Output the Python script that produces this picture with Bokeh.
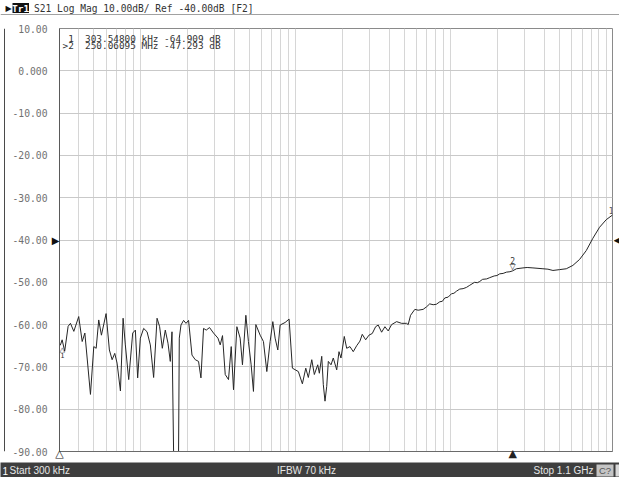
from bokeh.plotting import figure
from bokeh.layouts import column, row
from bokeh.models import Range1d, FixedTicker, Label, Span, LinearAxis
from bokeh.core.properties import value
from bokeh.embed import file_html
from bokeh.resources import INLINE

# ---------------- data ----------------
freq_mhz = [0.3035, 0.312, 0.324, 0.341, 0.353, 0.371, 0.399, 0.420, 0.437, 0.475,
            0.499, 0.517, 0.537, 0.559, 0.599, 0.629, 0.655, 0.681, 0.705, 0.741,
            0.771, 0.797, 0.838, 0.889, 0.925, 0.957, 0.996, 1.046, 1.100, 1.155,
            1.213, 1.276, 1.326, 1.380, 1.442, 1.501, 1.553, 1.593, 1.631, 1.756,
            1.775, 1.820, 1.892, 1.960, 2.037, 2.143, 2.250, 2.362, 2.448, 2.544,
            2.648, 2.780, 2.950, 3.150, 3.258, 3.371, 3.510, 3.684, 3.837, 3.969,
            4.173, 4.380, 4.533, 4.767, 4.953, 5.157, 5.337, 5.529, 5.895, 6.189,
            6.507, 6.834, 7.113, 7.359, 7.659, 7.926, 8.532, 9.057, 9.510, 10.39,
            11.03, 11.60, 12.05, 12.68, 13.17, 13.85, 14.19, 14.70, 15.05, 15.43,
            15.83, 16.21, 16.87, 17.45, 18.36, 18.99, 19.56, 20.54, 21.29, 22.35,
            23.47, 24.68, 25.92, 26.82, 28.21, 29.62, 31.12, 32.71, 33.99, 35.75,
            37.54, 39.42, 41.45, 44.66, 48.09, 51.78, 53.02, 54.94, 58.53, 61.49,
            66.21, 69.63, 73.0, 76.80, 80.5, 84.80, 88.0, 91.31, 96.0, 100.9,
            104.5, 108.6, 114.0, 119.8, 126.0, 132.3, 142.0, 148.0, 153.3, 160.0,
            170.0, 177.9, 190.0, 198.0, 206.3, 217.0, 227.9, 240.0, 250.06, 264.2,
            291.3, 310.0, 337.8, 391.8, 421.9, 454.4, 501.8, 554.2, 611.2, 674.8,
            745.3, 821.7, 907.5, 1002.0, 1100.0]
s21_db = [-64.9, -63.6, -66.3, -60.4, -59.7, -61.6, -58.1, -64.0, -62.0, -76.5,
          -65.2, -65.6, -58.9, -62.5, -57.4, -66.0, -68.3, -66.8, -69.1, -75.7,
          -58.5, -64.8, -73.0, -62.0, -61.3, -72.6, -63.2, -60.9, -61.7, -64.8,
          -72.5, -58.5, -60.5, -65.6, -61.3, -64.4, -68.7, -61.7, -90.0, -90.0,
          -63.2, -60.1, -59.0, -59.7, -59.0, -67.2, -68.3, -68.7, -72.6, -60.9,
          -61.3, -60.7, -62.0, -63.2, -64.8, -62.6, -71.8, -73.0, -65.2, -75.4,
          -60.5, -63.2, -69.5, -57.8, -64.0, -69.5, -75.8, -60.0, -62.5, -64.0,
          -71.1, -64.0, -59.3, -63.2, -66.0, -60.1, -59.5, -58.7, -70.3, -71.1,
          -74.0, -70.3, -72.5, -68.3, -71.8, -69.5, -71.5, -67.5, -74.2, -78.1,
          -74.6, -68.7, -69.5, -67.9, -70.7, -66.4, -67.9, -62.8, -65.6, -65.2,
          -66.4, -65.0, -63.9, -62.3, -63.6, -62.5, -62.1, -60.5, -60.1, -61.8,
          -60.5, -61.5, -60.0, -59.3, -59.7, -59.7, -60.0, -57.8, -56.4, -56.6,
          -56.4, -55.8, -55.1, -55.3, -55.2, -54.6, -54.5, -53.7, -53.5, -52.7,
          -52.6, -52.1, -51.6, -51.5, -51.2, -50.7, -50.0, -50.1, -49.8, -49.3,
          -49.2, -48.9, -48.5, -48.4, -48.0, -47.9, -47.6, -47.5, -47.293, -46.8,
          -46.6, -46.5, -46.6, -46.8, -46.9, -47.2, -47.0, -46.8, -46.0, -44.6,
          -42.5, -39.6, -37.0, -35.2, -34.1]

y_ticks = [10, 0, -10, -20, -30, -40, -50, -60, -70, -80, -90]
y_tick_labels = ["10.00", "0.000", "-10.00", "-20.00", "-30.00", "-40.00",
                 "-50.00", "-60.00", "-70.00", "-80.00", "-90.00"]
grid_freqs = [0.4, 0.5, 0.6, 0.7, 0.8, 0.9, 1, 2, 3, 4, 5, 6, 7, 8, 9,
              10, 20, 30, 40, 50, 60, 70, 80, 90,
              100, 200, 300, 400, 500, 600, 700, 800, 900, 1000]
start_mhz = 0.3
stop_mhz = 1100.0
ref_db = -40.0
marker_freqs = [0.303548, 250.06095]
marker_dbs = [-64.909, -47.293]
header_text = "S21 Log Mag 10.00dB/ Ref -40.00dB [F2]"
status_left = "Start 300 kHz"
status_mid = "IFBW 70 kHz"
status_right = "Stop 1.1 GHz"

MONO = "DejaVu Sans Mono"
SANS = "Liberation Sans"
TRACE = "#262626"
NB = "\u00a0"

# ---------------- layout geometry (pixels) ----------------
W = 619
HEAD_H, MAIN_H, STAT_H = 15, 447, 15
STRIP_W, RSTRIP_W = 5, 6
MAIN_W = W - STRIP_W - RSTRIP_W
BORDER_L, BORDER_R, BORDER_T, BORDER_B = 54, 1, 13, 8


def bare(fig):
    fig.axis.visible = False
    fig.grid.visible = False
    fig.outline_line_color = None
    return fig


# ---------------- header ----------------
h = bare(figure(width=W, height=HEAD_H, x_range=Range1d(0, W), y_range=Range1d(HEAD_H, 0),
                output_backend="svg", toolbar_location=None, min_border=0, title=None))
h.add_layout(Span(location=14.3, dimension="width", line_color="#7a7a7a", line_width=1))
h.text(x=[5], y=[7.5], text=["\u25B6"], text_font=value("DejaVu Sans"),
       text_font_size="8px", text_baseline="middle", text_color="#111111")
h.quad(left=[12], right=[28.5], top=[2.5], bottom=[12.5], fill_color="#111111", line_color=None)
h.text(x=[20.2], y=[7.5], text=["Tr1"], text_font=value(MONO), text_font_size="9.5px",
       text_baseline="middle", text_align="center", text_color="white", text_font_style="bold")
h.text(x=[33.5], y=[7.5], text=[header_text], text_font=value(MONO), text_font_size="9.6px",
       text_baseline="middle", text_color="#333333")

# ---------------- left strip (window border) ----------------
s = bare(figure(width=STRIP_W, height=MAIN_H, x_range=Range1d(0, STRIP_W),
                y_range=Range1d(0, MAIN_H), output_backend="svg", toolbar_location=None,
                min_border=0, title=None))
s.add_layout(Span(location=4.0, dimension="height", line_color="#4a4a4a", line_width=1))

# ---------------- main plot ----------------
p = figure(width=MAIN_W, height=MAIN_H, x_axis_type="log",
           x_range=Range1d(start_mhz, stop_mhz), y_range=Range1d(-90, 10),
           output_backend="svg", toolbar_location=None, title=None,
           min_border_left=BORDER_L, min_border_right=BORDER_R,
           min_border_top=BORDER_T, min_border_bottom=BORDER_B)

# bottom axis: start and active-marker indicators
ax_x = p.xaxis[0]
ax_x.ticker = FixedTicker(ticks=[start_mhz, marker_freqs[1]])
ax_x.major_label_overrides = {start_mhz: "\u25B3", marker_freqs[1]: "\u25B2"}
ax_x.major_tick_line_color = None
ax_x.minor_tick_line_color = None
ax_x.major_tick_out = 0
ax_x.major_tick_in = 0
ax_x.axis_line_color = "#6a6a6a"
ax_x.major_label_text_font = "DejaVu Sans"
ax_x.major_label_text_font_size = "11px"
ax_x.major_label_text_line_height = 0.7
ax_x.major_label_text_color = "#222222"
ax_x.major_label_standoff = -5

# inner left axis: reference-level arrow only
ax_ref = p.yaxis[0]
ax_ref.ticker = FixedTicker(ticks=[ref_db])
ax_ref.major_label_overrides = {ref_db: "\u25B6"}
ax_ref.major_tick_line_color = None
ax_ref.minor_tick_line_color = None
ax_ref.major_tick_out = 0
ax_ref.major_tick_in = 0
ax_ref.axis_line_color = "#5a5a5a"
ax_ref.major_label_text_font = "DejaVu Sans"
ax_ref.major_label_text_font_size = "10px"
ax_ref.major_label_text_color = "#111111"
ax_ref.major_label_standoff = 0

# outer left axis: dB values
ax_db = LinearAxis(ticker=FixedTicker(ticks=y_ticks),
                   major_label_overrides={t: l for t, l in zip(y_ticks, y_tick_labels)},
                   axis_line_color=None, major_tick_line_color=None,
                   minor_tick_line_color=None, major_tick_out=0, major_tick_in=0,
                   major_label_text_font=MONO, major_label_text_font_size="9.7px",
                   major_label_text_color="#707070", major_label_standoff=1)
p.add_layout(ax_db, "left")

p.xgrid.ticker = FixedTicker(ticks=grid_freqs)
p.xgrid.grid_line_color = "#d6d6d6"
p.ygrid.ticker = FixedTicker(ticks=y_ticks)
p.ygrid.grid_line_color = "#c9c9c9"
p.outline_line_color = "#8a8a8a"

p.line(freq_mhz, s21_db, line_color=TRACE, line_width=1)

# readout
line1 = f" 1  {marker_freqs[0]*1000:.5f} kHz {marker_dbs[0]:.3f} dB".replace(" ", NB)
line2 = f">2  {marker_freqs[1]:.5f} MHz {marker_dbs[1]:.3f} dB".replace(" ", NB)
for i, t in enumerate([line1, line2]):
    p.add_layout(Label(x=start_mhz, y=10, x_offset=3, y_offset=-4 - 7.5 * i, text=t,
                       text_font=MONO, text_font_size="9.4px", text_baseline="top",
                       text_color="#333333"))

# marker 1 on trace
p.add_layout(Label(x=marker_freqs[0], y=marker_dbs[0], text="\u25B3", text_align="center",
                   text_baseline="top", x_offset=2, y_offset=-1, text_font="DejaVu Sans",
                   text_font_size="7px", text_color="#333333"))
p.add_layout(Label(x=marker_freqs[0], y=marker_dbs[0], text="1", text_align="center",
                   text_baseline="top", x_offset=2, y_offset=-7, text_font=MONO,
                   text_font_size="7px", text_color="#333333"))
# marker 2 on trace
p.add_layout(Label(x=marker_freqs[1], y=marker_dbs[1], text="\u25BD", text_align="center",
                   text_baseline="bottom", y_offset=0, text_font="DejaVu Sans",
                   text_font_size="8px", text_color="#333333"))
p.add_layout(Label(x=marker_freqs[1], y=marker_dbs[1], text="2", text_align="center",
                   text_baseline="bottom", y_offset=7, text_font=MONO,
                   text_font_size="8px", text_color="#333333"))
# trace end label
p.add_layout(Label(x=freq_mhz[-1], y=s21_db[-1], text="1", text_align="right",
                   text_baseline="bottom", x_offset=1, y_offset=1, text_font=MONO,
                   text_font_size="8px", text_color="#555555"))

# ---------------- right strip: reference-level arrow ----------------
r = bare(figure(width=RSTRIP_W, height=MAIN_H, x_range=Range1d(0, RSTRIP_W),
                y_range=p.y_range, output_backend="svg", toolbar_location=None,
                title=None, min_border_left=0, min_border_right=0,
                min_border_top=BORDER_T, min_border_bottom=BORDER_B + 1))
r.text(x=[0], y=[ref_db], text=["\u25C0"], text_font=value("DejaVu Sans"),
       text_font_size="8.5px", text_baseline="middle", text_align="left",
       text_color="#111111")

# ---------------- status bar ----------------
b = bare(figure(width=W, height=STAT_H, x_range=Range1d(0, W), y_range=Range1d(STAT_H, 0),
                output_backend="svg", toolbar_location=None, min_border=0, title=None,
                background_fill_color="#3e3e3e", border_fill_color="#3e3e3e"))
b.text(x=[2], y=[8], text=["1"], text_font=value(SANS), text_font_size="10px",
       text_baseline="middle", text_color="white")
b.text(x=[9], y=[8], text=[status_left], text_font=value(SANS), text_font_size="10px",
       text_baseline="middle", text_color="#e6e6e6")
b.text(x=[306], y=[8], text=[status_mid], text_font=value(SANS), text_font_size="10px",
       text_baseline="middle", text_align="center", text_color="#e6e6e6")
b.text(x=[593], y=[8], text=[status_right], text_font=value(SANS), text_font_size="10px",
       text_baseline="middle", text_align="right", text_color="#e6e6e6")
b.quad(left=[596], right=[613], top=[2], bottom=[14], fill_color="#c4c4c4", line_color=None)
b.text(x=[604.5], y=[8], text=["C?"], text_font=value(SANS), text_font_size="9.5px",
       text_baseline="middle", text_align="center", text_color="#555555")
b.quad(left=[615], right=[619], top=[2], bottom=[14], fill_color="#d8d8d8", line_color=None)

layout = column(h, row(s, p, r, spacing=0), b, spacing=0)

html = file_html(layout, INLINE)
open("out.html", "w").write(html)
